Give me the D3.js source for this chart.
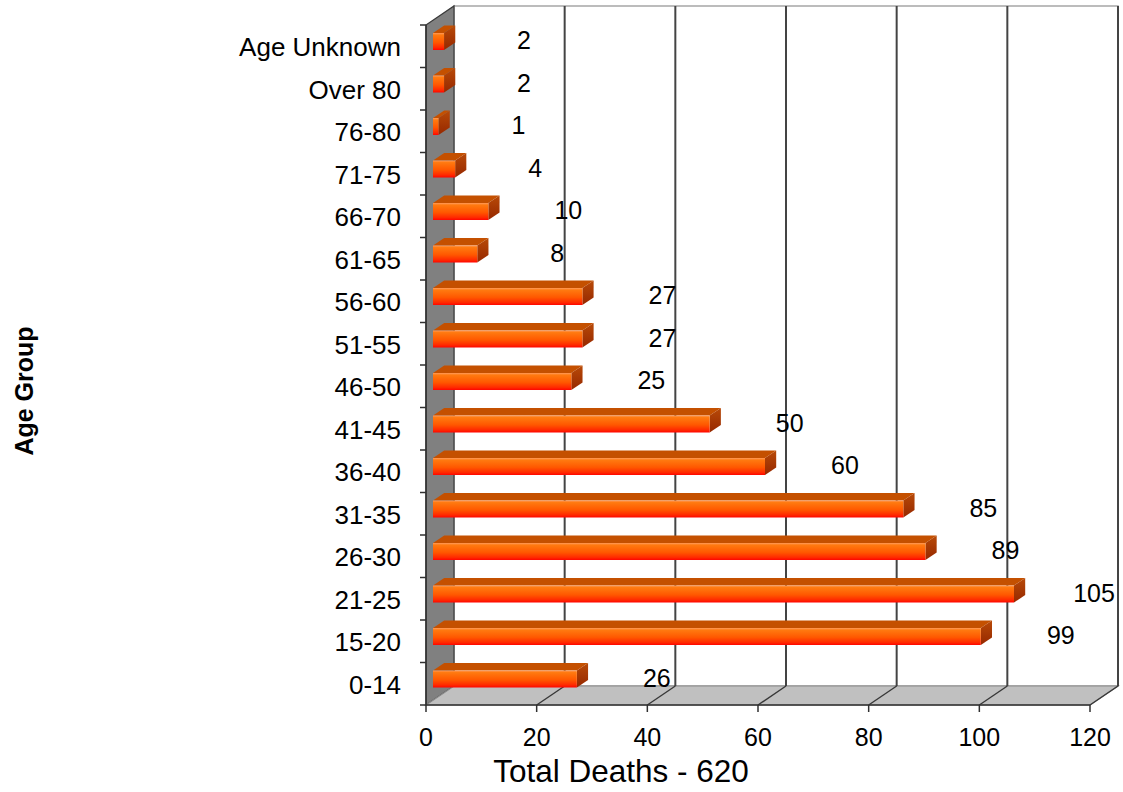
<!DOCTYPE html>
<html>
<head>
<meta charset="utf-8">
<script src="https://cdn.jsdelivr.net/npm/d3@7"></script>
<style>
  body { margin: 0; background: #fff; }
  text { font-family: "Liberation Sans", Arial, sans-serif; fill: #000; }
</style>
</head>
<body>
<div id="chart"></div>
<script>
// Deaths by age group (top to bottom as drawn)
const ageGroups = ['Age Unknown', 'Over 80', '76-80', '71-75', '66-70', '61-65', '56-60', '51-55',
    '46-50', '41-45', '36-40', '31-35', '26-30', '21-25', '15-20', '0-14'];
const deaths = [2, 2, 1, 4, 10, 8, 27, 27, 25, 50, 60, 85, 89, 105, 99, 26];
const xTicks = [0, 20, 40, 60, 80, 100, 120];
const xTitle = 'Total Deaths - 620';
const yTitle = 'Age Group';

const rows = ageGroups.map((g, i) => ({ group: g, value: deaths[i] }));

// Chart dimensions
const width = 1123;
const height = 792;
const plotLeft = 426, plotRight = 1090, plotTop = 25, plotBottom = 705;

// 3D depth offset for back wall
const DX = 28, DY = -19;
const barFront = 0.25, barBack = 0.65;
const barH = 17;

const x = d3.scaleLinear().domain([0, 120]).range([plotLeft, plotRight]);
const y = d3.scaleBand().domain(ageGroups).range([plotTop, plotBottom]);

const svg = d3.select('#chart')
    .append('svg')
    .attr('width', width)
    .attr('height', height);

const defs = svg.append('defs');
const frontGrad = defs.append('linearGradient')
    .attr('id', 'barFront').attr('x1', 0).attr('y1', 0).attr('x2', 0).attr('y2', 1);
[[0, '#ff9a5a'], [0.12, '#ff7a10'], [0.55, '#ff5800'], [0.85, '#ff2a00'], [1, '#ff0500']]
    .forEach(s => frontGrad.append('stop').attr('offset', s[0]).attr('stop-color', s[1]));
const sideGrad = defs.append('linearGradient')
    .attr('id', 'barSide').attr('x1', 0).attr('y1', 0).attr('x2', 0).attr('y2', 1);
[[0, '#b84a08'], [1, '#962800']]
    .forEach(s => sideGrad.append('stop').attr('offset', s[0]).attr('stop-color', s[1]));

const pt = (px, py, d) => [px + d * DX, py + d * DY];
const poly = pts => pts.map(p => p.join(',')).join(' ');

// Back wall
svg.append('rect')
    .attr('x', plotLeft + DX).attr('y', plotTop + DY)
    .attr('width', plotRight - plotLeft).attr('height', plotBottom - plotTop)
    .attr('fill', '#fff').attr('stroke', '#a6a6a6').attr('stroke-width', 1.5);

// Left side wall
svg.append('polygon')
    .attr('points', poly([pt(plotLeft, plotTop, 0), pt(plotLeft, plotTop, 1), pt(plotLeft, plotBottom, 1), pt(plotLeft, plotBottom, 0)]))
    .attr('fill', '#808080').attr('stroke', '#3a3a3a').attr('stroke-width', 1.2);

// Floor
svg.append('polygon')
    .attr('points', poly([pt(plotLeft, plotBottom, 0), pt(plotLeft, plotBottom, 1), pt(plotRight, plotBottom, 1), pt(plotRight, plotBottom, 0)]))
    .attr('fill', '#c0c0c0').attr('stroke', '#8a8a8a').attr('stroke-width', 1.2);

// Gridlines on back wall and floor
xTicks.filter(t => t > 0).forEach(t => {
    svg.append('line')
        .attr('x1', x(t) + DX).attr('x2', x(t) + DX)
        .attr('y1', plotTop + DY).attr('y2', plotBottom + DY)
        .attr('stroke', '#444').attr('stroke-width', 2);
    svg.append('line')
        .attr('x1', x(t)).attr('y1', plotBottom)
        .attr('x2', x(t) + DX).attr('y2', plotBottom + DY)
        .attr('stroke', '#383838').attr('stroke-width', 1.4);
});

// Axes lines
svg.append('line')
    .attr('x1', plotLeft).attr('x2', plotLeft).attr('y1', plotTop).attr('y2', plotBottom)
    .attr('stroke', '#303030').attr('stroke-width', 1.5);
svg.append('line')
    .attr('x1', plotLeft).attr('x2', plotRight).attr('y1', plotBottom).attr('y2', plotBottom)
    .attr('stroke', '#303030').attr('stroke-width', 1.5);

// Y tick marks at band boundaries
const boundaries = ageGroups.map(g => y(g)).concat([plotBottom]);
svg.selectAll('.ytick')
    .data(boundaries)
    .enter().append('line')
    .attr('x1', plotLeft - 6).attr('x2', plotLeft)
    .attr('y1', d => d).attr('y2', d => d)
    .attr('stroke', '#303030').attr('stroke-width', 1.5);

// X ticks and labels
svg.selectAll('.xtick')
    .data(xTicks)
    .enter().append('line')
    .attr('x1', d => x(d)).attr('x2', d => x(d))
    .attr('y1', plotBottom).attr('y2', plotBottom + 7)
    .attr('stroke', '#303030').attr('stroke-width', 1.5);

svg.selectAll('.xlabel')
    .data(xTicks)
    .enter().append('text')
    .attr('x', d => x(d))
    .attr('y', 746)
    .attr('text-anchor', 'middle')
    .style('font-size', '25px')
    .text(d => d);

// Category labels
svg.selectAll('.ylabel')
    .data(ageGroups)
    .enter().append('text')
    .attr('x', 401)
    .attr('y', d => y(d) + y.bandwidth() / 2 + 10)
    .attr('text-anchor', 'end')
    .style('font-size', '26px')
    .text(d => d);

// Bars
const bars = svg.selectAll('.bar')
    .data(rows)
    .enter().append('g')
    .attr('class', 'bar');

bars.each(function(d) {
    const g = d3.select(this);
    const yc = y(d.group) + y.bandwidth() / 2;
    const yT = yc - barH / 2, yB = yc + barH / 2;
    const x0 = x(0), x1 = x(d.value);
    // top face
    g.append('polygon')
        .attr('points', poly([pt(x0, yT, barFront), pt(x1, yT, barFront), pt(x1, yT, barBack), pt(x0, yT, barBack)]))
        .attr('fill', '#c45000');
    // right end face
    g.append('polygon')
        .attr('points', poly([pt(x1, yT, barFront), pt(x1, yT, barBack), pt(x1, yB, barBack), pt(x1, yB, barFront)]))
        .attr('fill', 'url(#barSide)');
    // front face
    const f = pt(x0, yT, barFront);
    g.append('rect')
        .attr('x', f[0]).attr('y', f[1])
        .attr('width', Math.max(0, x1 - x0)).attr('height', barH)
        .attr('fill', 'url(#barFront)');
});

// Data labels
svg.selectAll('.vlabel')
    .data(rows)
    .enter().append('text')
    .attr('x', d => x(d.value) + barFront * DX + 80)
    .attr('y', d => y(d.group) + y.bandwidth() / 2 - 6 + 9)
    .attr('text-anchor', 'middle')
    .style('font-size', '25px')
    .text(d => d.value);

// Axis titles
svg.append('text')
    .attr('x', 621)
    .attr('y', 782)
    .attr('text-anchor', 'middle')
    .style('font-size', '31.5px')
    .text(xTitle);

svg.append('text')
    .attr('transform', 'translate(33, 391) rotate(-90)')
    .attr('text-anchor', 'middle')
    .style('font-size', '25px')
    .style('font-weight', 'bold')
    .text(yTitle);
</script>
</body>
</html>
